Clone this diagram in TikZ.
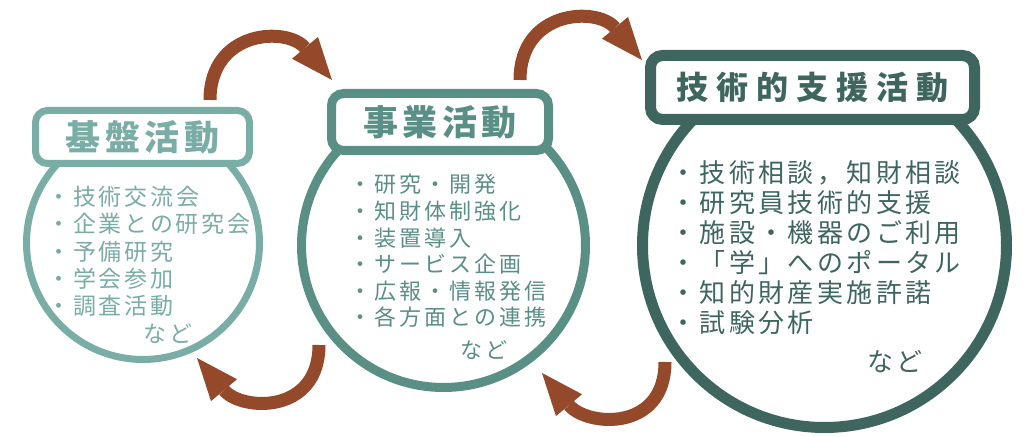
\documentclass[tikz,border=0pt]{standalone}
\usepackage{fontspec}
\newfontfamily\jp{Noto Sans CJK JP}
\usetikzlibrary{arrows.meta}

\definecolor{kibancol}{HTML}{79ADA5}
\definecolor{jigyocol}{HTML}{5A8F86}
\definecolor{shiencol}{HTML}{3E665F}
\definecolor{cyclecol}{HTML}{93492A}

\begin{document}
\begin{tikzpicture}[x=0.5pt, y=0.5pt]
  \tikzstyle{ring}=[draw, circle, fill=white, inner sep=0pt];
  \tikzstyle{tag}=[draw, fill=white, rounded corners=6pt, inner sep=0pt];
  \tikzstyle{items}=[anchor=north west, inner sep=0pt, align=left];
  \tikzstyle{cycle}=[draw=cyclecol, line width=6.5pt, -{Triangle[width=17pt, length=21pt, line width=0pt]}, looseness=1.45];

  \useasboundingbox (0,0) rectangle (1024,-437);

  % circles
  \node[ring, draw=kibancol, line width=3.5pt, minimum size=116.5pt] (kiban) at (143,-243) {};
  \node[ring, draw=jigyocol, line width=4.5pt, minimum size=142pt] (jigyo) at (443.5,-245.5) {};
  \node[ring, draw=shiencol, line width=5.5pt, minimum size=182pt] (shien) at (824.5,-245.5) {};

  % titles
  \node[tag, draw=kibancol, line width=3.5pt, minimum width=107pt, minimum height=26.5pt, text=kibancol,
        font=\jp\bfseries\addfontfeatures{LetterSpace=13}\fontsize{17.5pt}{20pt}\selectfont] (kibanT) at (142.5,-137) {基盤活動};
  \node[tag, draw=jigyocol, line width=4.5pt, minimum width=108.5pt, minimum height=28.5pt, text=jigyocol,
        font=\jp\bfseries\addfontfeatures{LetterSpace=13}\fontsize{17.5pt}{20pt}\selectfont] (jigyoT) at (440,-122) {事業活動};
  \node[tag, draw=shiencol, line width=5.5pt, minimum width=162pt, minimum height=32pt, text=shiencol,
        font=\jp\bfseries\addfontfeatures{LetterSpace=25}\fontsize{16pt}{20pt}\selectfont] (shienT) at (812.5,-87.5) {技術的支援活動};

  % lists
  \node[items, text=kibancol, font=\jp\addfontfeatures{LetterSpace=12}\fontsize{11.5pt}{13.6pt}\selectfont] (kibanL) at (47,-186)
    {・技術交流会\\・企業との研究会\\・予備研究\\・学会参加\\・調査活動\\[0.5pt]\hspace*{48pt}など};
  \node[items, text=jigyocol, font=\jp\addfontfeatures{LetterSpace=14}\fontsize{11pt}{13.3pt}\selectfont] (jigyoL) at (349,-174)
    {・研究・開発\\・知財体制強化\\・装置導入\\・サービス企画\\・広報・情報発信\\・各方面との連携\\[3pt]\hspace*{55.5pt}など};
  \node[items, text=shiencol, font=\jp\addfontfeatures{LetterSpace=13}\fontsize{13pt}{15pt}\selectfont] (shienL) at (670,-160)
    {・技術相談，知財相談\\・研究員技術的支援\\・施設・機器のご利用\\・「学」へのポータル\\・知的財産実施許諾\\・試験分析\\[4.5pt]\hspace*{98.5pt}など};

  % cycle arrows
  \coordinate (c1s) at (210,-100);
  \coordinate (c1e) at (332,-80);
  \coordinate (c2s) at (520,-80);
  \coordinate (c2e) at (642,-60);
  \coordinate (c3s) at (319,-345);
  \coordinate (c3e) at (197,-358);
  \coordinate (c4s) at (665,-362);
  \coordinate (c4e) at (542,-373);
  \draw[cycle] (c1s) to[out=90, in=130] (c1e);
  \draw[cycle] (c2s) to[out=90, in=130] (c2e);
  \draw[cycle] (c3s) to[out=-90, in=-50] (c3e);
  \draw[cycle] (c4s) to[out=-90, in=-50] (c4e);
\end{tikzpicture}
\end{document}
